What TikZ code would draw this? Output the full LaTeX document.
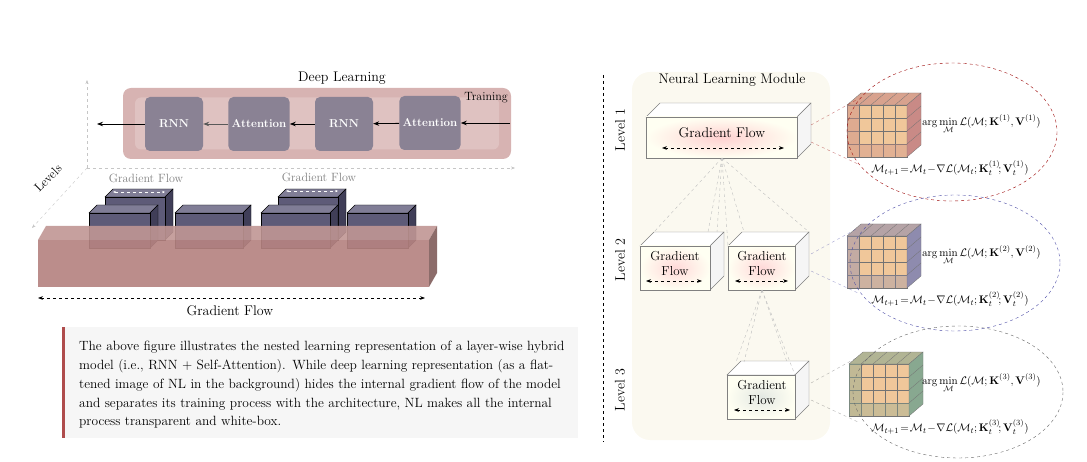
\documentclass[tikz,border=0pt]{standalone}
\usetikzlibrary{arrows.meta}
\begin{document}
\begin{tikzpicture}[x=1pt,y=-1pt,
  blk/.style={rounded corners=5pt,fill=blkc,text=white,font=\bfseries\fontsize{11.5}{13}\selectfont,minimum width=58pt,minimum height=54pt},
  ax/.style={gray!45,dashed,-{Stealth[length=4pt]}},
  gf/.style={dashed,thick,{Stealth[length=5pt]}-{Stealth[length=5pt]}},
  lbl/.style={font=\fontsize{14}{16}\selectfont},
  conn/.style={gray!50,dashed,thin}]
\definecolor{blkc}{HTML}{8A8294}
\definecolor{pinkc}{HTML}{D7B3B2}
\definecolor{barc}{HTML}{B58381}
\definecolor{cubef}{HTML}{5E5B78}
\definecolor{cubet}{HTML}{807D96}
\definecolor{cubes}{HTML}{403E58}
\definecolor{tan}{HTML}{F0C79A}
\definecolor{cr}{HTML}{C98A86}
\definecolor{cb}{HTML}{8E8BAE}
\definecolor{cg}{HTML}{88A890}
\definecolor{modbg}{HTML}{FBF9F0}
\useasboundingbox (0,0) rectangle (1087,462);
% ---------- left ----------
\coordinate (o) at (87,168);
\coordinate (up) at (87,80);
\coordinate (rt) at (515,168);
\coordinate (dn) at (32,228);
\draw[ax] (o) -- (up);
\draw[ax] (o) -- (rt);
\draw[ax] (o) -- (dn);
\node[rotate=45,font=\fontsize{12.5}{14}\selectfont] at (48,178) {Levels};
\node[rounded corners=8pt,fill=pinkc,minimum width=388pt,minimum height=71pt] (dl) at (317,123.5) {};
\node[rounded corners=6pt,fill=white,opacity=0.2,minimum width=364pt,minimum height=52pt] at (317,123.5) {};
\node[lbl] at (342,78) {Deep Learning};
\node[font=\fontsize{12}{13}\selectfont] at (486,98) {Training};
\node[blk] (r1) at (174,124) {RNN};
\node[blk] (a1) at (259,124) {Attention};
\node[blk] (r2) at (344,124) {RNN};
\node[blk] (a2) at (430,123) {Attention};
\coordinate (tin) at (510,123);
\coordinate (tout) at (97,124);
\draw[thick,-{Stealth[length=6pt]}] (tin) -- (a2);
\draw[thick,-{Stealth[length=6pt]}] (a2) -- (r2);
\draw[thick,-{Stealth[length=6pt]}] (r2) -- (a1);
\draw[thick,gray!70!black,-{Stealth[length=6pt]}] (a1) -- (r1);
\draw[thick,-{Stealth[length=6pt]}] (r1) -- (tout);
% blocks
\newcommand{\blkbox}[4]{%
  \fill[cubet,draw=black,thin] (#1,#2) -- ++(8,-8) -- (#3+8,#2-8) -- (#3,#2) -- cycle;
  \fill[cubes,draw=black,thin] (#3,#2) -- ++(8,-8) -- (#3+8,#4-8) -- (#3,#4) -- cycle;
  \fill[cubef,draw=black,thin] (#1,#2) rectangle (#3,#4);}
\blkbox{105}{197}{165}{240}
\blkbox{278}{197}{338}{240}
\blkbox{89}{213}{150}{248}
\blkbox{175}{213}{243}{248}
\blkbox{261}{213}{330}{248}
\blkbox{347}{213}{408}{248}
\coordinate (ga1) at (113,192); \coordinate (gb1) at (165,192);
\coordinate (ga2) at (286,191); \coordinate (gb2) at (338,191);
\draw[dashed,white,{Stealth[length=3pt]}-{Stealth[length=3pt]}] (ga1) -- (gb1);
\draw[dashed,white,{Stealth[length=3pt]}-{Stealth[length=3pt]}] (ga2) -- (gb2);
\node[font=\fontsize{12}{13}\selectfont,text=gray] at (146,178) {Gradient Flow};
\node[font=\fontsize{12}{13}\selectfont,text=gray] at (319,177) {Gradient Flow};
% bar
\fill[barc!85!white,opacity=0.9] (38,240) -- (46,226) -- (437,226) -- (429,240) -- cycle;
\fill[barc!70!black,opacity=0.9] (429,240) -- (437,226) -- (437,273) -- (429,287) -- cycle;
\fill[barc,opacity=0.92] (38,240) rectangle (429,287);
\coordinate (bg1) at (38,298); \coordinate (bg2) at (425,298);
\draw[gf] (bg1) -- (bg2);
\node[lbl] at (230,311) {Gradient Flow};
% text box
\fill[red!3!gray!7] (62,327) rectangle (578,438);
\fill[red!55!black!70] (62,327) rectangle (65,438);
\node[anchor=north west,text width=490pt,align=left,font=\fontsize{13.4}{18.8}\selectfont,inner sep=0pt] at (79,341)
{\hyphenpenalty=10000 The above figure illustrates the nested learning representation of a layer-wise hybrid model (i.e., RNN + Self-Attention). While deep learning representation (as a flattened image of NL in the background) hides the internal gradient flow of the model and separates its training process with the architecture, NL makes all the internal process transparent and white-box.};
\coordinate (s1) at (603,75); \coordinate (s2) at (603,442);
\draw[dashed,thick] (s1) -- (s2);
% ---------- right ----------
\fill[modbg,rounded corners=18pt] (632,72) rectangle (830,440);
\node[lbl] at (732,80) {Neural Learning Module};
\node[rotate=90,lbl] at (620,130) {Level 1};
\node[rotate=90,lbl] at (620,260) {Level 2};
\node[rotate=90,lbl] at (620,390) {Level 3};
\newcommand{\flowbox}[6]{%
  \fill[white,draw=gray] (#1,#2) -- ++(14,-14) -- (#3+14,#2-14) -- (#3,#2) -- cycle;
  \fill[white!92!gray,draw=gray] (#3,#2) -- ++(14,-14) -- (#3+14,#4-14) -- (#3,#4) -- cycle;
  \path[draw=gray,inner color=#5,outer color=white!95!yellow] (#1,#2) rectangle (#3,#4);
  \node (#6) at ({(#1+#3)/2},{(#2+#4)/2}) [minimum width={#3-#1},minimum height={#4-#2}] {};}
\flowbox{646}{117}{797}{158}{red!18}{L1}
\node[lbl] at (722,133) {Gradient Flow};
\coordinate (l1a) at (662,148); \coordinate (l1b) at (784,148);
\draw[gf] (l1a) -- (l1b);
\flowbox{640}{246}{710}{290}{red!15}{L2a}
\flowbox{728}{246}{795}{290}{red!15}{L2b}
\flowbox{727}{375}{795}{419}{green!10!gray!20}{L3}
\node[align=center,font=\fontsize{13}{15}\selectfont] at (675,263) {Gradient\\Flow};
\node[align=center,font=\fontsize{13}{15}\selectfont] at (762,263) {Gradient\\Flow};
\node[align=center,font=\fontsize{13}{15}\selectfont] at (762,392) {Gradient\\Flow};
\coordinate (a) at (646,281); \coordinate (b) at (702,281);
\draw[gf] (a) -- (b);
\coordinate (a) at (735,281); \coordinate (b) at (788,281);
\draw[gf] (a) -- (b);
\coordinate (a) at (734,410); \coordinate (b) at (790,410);
\draw[gf] (a) -- (b);
\coordinate (p1) at (722,158); \coordinate (p2) at (762,290);
\foreach \x/\y in {654/232,708/232,717/232,728/246,744/232,809/232}
  {\coordinate (q) at (\x,\y); \draw[conn] (p1) -- (q);}
\foreach \x/\y in {736/362,744/362,787/362,795/375}
  {\coordinate (q) at (\x,\y); \draw[conn] (p2) -- (q);}
% cubes
\newcommand{\cubegrid}[3]{%
  \foreach \i in {0,...,4} \foreach \j in {0,...,3}
    \fill[tan,draw=black!55,line width=0.3pt] ({#1+\i*12},{#2+\j*13}) rectangle ++(12,13);
  \fill[#3!60!tan,draw=black!55,line width=0.3pt] (#1,#2) -- ++(14,-12) -- ++(60,0) -- ++(-14,12) -- cycle;
  \foreach \i in {1,...,4} \draw[black!55,line width=0.3pt] ({#1+\i*12},#2) -- ++(14,-12);
  \fill[#3,draw=black!55,line width=0.3pt] (#1+60,#2) -- ++(14,-12) -- ++(0,52) -- ++(-14,12) -- cycle;
  \foreach \j in {1,...,3} \draw[black!55,line width=0.3pt] (#1+60,{#2+\j*13}) -- ++(14,-12);
  \foreach \i in {0,...,3} \fill[#3,opacity=0.45] ({#1},{#2+\i*13}) rectangle ++(12,13);
  \fill[#3,opacity=0.35] (#1+12,#2+39) rectangle ++(48,13);}
\cubegrid{847}{105}{cr}
\cubegrid{847}{236}{cb}
\cubegrid{849}{364}{cg}
\draw[dashed,red!60!black] (952,132) ellipse (105 and 69);
\draw[dashed,blue!50!black!70] (955,263) ellipse (105 and 68);
\draw[dashed,gray!80!black] (958,392) ellipse (105 and 66);
\foreach \y/\c in {117/red!60!black,246/blue!50!black!70,375/gray!80!black}{
  \coordinate (e1) at (811,\y+8); \coordinate (e2) at (858,\y-18);
  \coordinate (e3) at (811,\y+25); \coordinate (e4) at (858,\y+47);
  \draw[\c,dashed,thin,opacity=0.5] (e1) -- (e2); \draw[\c,dashed,thin,opacity=0.5] (e3) -- (e4);}
\foreach \k/\y in {1/124,2/255,3/383}{
 \node[anchor=west,inner sep=0pt,font=\fontsize{11.3}{12}\selectfont] at (922,\y) {$\displaystyle\arg\min_{\mathcal M}\mathcal L(\mathcal M;\mathbf K^{(\k)},\mathbf V^{(\k)})$};
 \node[inner sep=0pt,font=\fontsize{11.3}{12}\selectfont] at (950,\y+44) {$\mathcal M_{t+1}\!=\!\mathcal M_t\!-\!\nabla\mathcal L(\mathcal M_t;\mathbf K_t^{(\k)}\!;\mathbf V_t^{(\k)})$};}
\end{tikzpicture}
\end{document}
